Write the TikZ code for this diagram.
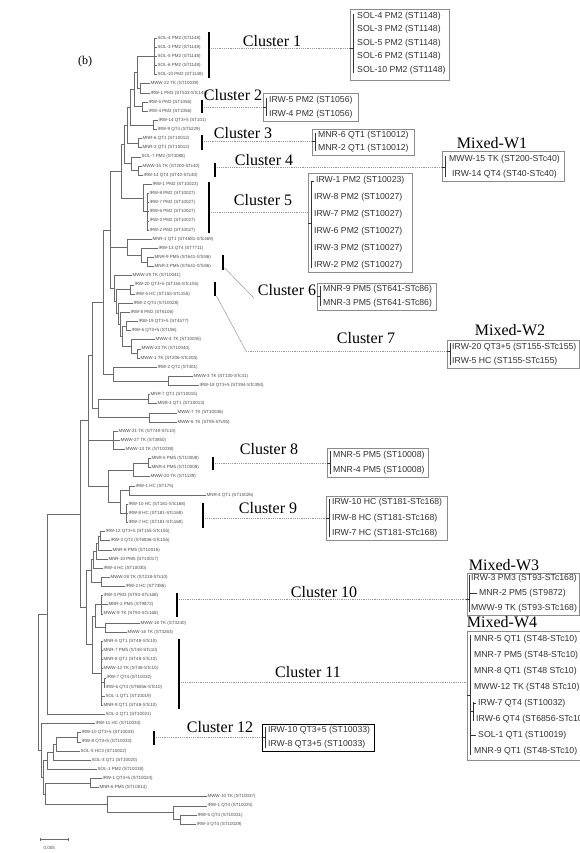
\documentclass[tikz,border=0pt]{standalone}
\usepackage{fontspec}
\setmainfont{Liberation Serif}
\newfontfamily\arialf{Liberation Sans}
\definecolor{treegray}{gray}{0.42}
\definecolor{leafgray}{gray}{0.3}
\definecolor{dotgray}{gray}{0.6}
\definecolor{boxgray}{gray}{0.55}
\definecolor{boxtext}{gray}{0.2}
\newcommand\lf[3]{\node[leaf] (l#1) at (#2,#1) {#3};}
\newcommand\vl[3]{\draw[br] (#1,#2) -- (#1,#3);}
\newcommand\hl[3]{\draw[br] (#1,#3) -- (#2,#3);}
\newcommand\tol[2]{\draw[br] (#1,#2) -- (l#2.west);}
\newcommand\brow[3]{\node[btxt] at (#1,#2) {#3};}
\newcommand\bkt[4]{\draw[bline] (#1,#2) -- (#1,#3); \draw[bline] (#1,#4) -- ++(-3.5,0);}
\begin{document}
\begin{tikzpicture}[x=1pt,y=-1pt,
  br/.style={draw=treegray,line width=0.45pt},
  leaf/.style={anchor=west,inner sep=0.3pt,font=\arialf\fontsize{4.5}{5}\selectfont,text=leafgray},
  cbar/.style={line width=2.2pt,black},
  dots/.style={draw=dotgray,line width=0.5pt,dash pattern=on 1.2pt off 1pt},
  conn/.style={draw=dotgray,line width=0.5pt},
  cbox/.style={draw=boxgray,line width=0.6pt},
  bline/.style={draw=boxtext,line width=0.6pt},
  btxt/.style={anchor=west,inner sep=0pt,font=\arialf\fontsize{8.7}{9}\selectfont,text=boxtext},
  clab/.style={font=\fontsize{16}{18}\selectfont,inner sep=0pt}]
\useasboundingbox (0,0) rectangle (580,853);
\fill[white] (0,0) rectangle (580,853);
\node[font=\fontsize{12}{14}\selectfont] (b) at (85,62) {(b)};
% ---------------- tree ----------------
\begin{scope}[y=-9.14pt,yshift=-28.86pt]
\lf{1}{157}{SOL-4 PM2 (ST1148)}
\lf{2}{157}{SOL-3 PM2 (ST1148)}
\lf{3}{157}{SOL-5 PM2 (ST1148)}
\lf{4}{157}{SOL-6 PM2 (ST1148)}
\lf{5}{157}{SOL-10 PM2 (ST1148)}
\lf{6}{150}{MWW-22 TK (ST10039)}
\lf{7}{150}{IRW-1 PM3 (ST533-STc145)}
\lf{8}{148}{IRW-5 PM2 (ST1056)}
\lf{9}{148}{IRW-4 PM2 (ST1056)}
\lf{10}{158}{IRW-14 QT3+5 (ST101)}
\lf{11}{157}{IRW-9 QT4 (ST5229)}
\lf{12}{142}{MNR-6 QT1 (ST10012)}
\lf{13}{142}{MNR-2 QT1 (ST10012)}
\lf{14}{141}{SOL-7 PM2 (ST4088)}
\lf{15}{142}{MWW-15 TK (ST200-STc40)}
\lf{16}{143}{IRW-14 QT4 (ST40-STc40)}
\lf{17}{152}{IRW-1 PM2 (ST10023)}
\lf{18}{149}{IRW-8 PM2 (ST10027)}
\lf{19}{149}{IRW-7 PM2 (ST10027)}
\lf{20}{149}{IRW-6 PM2 (ST10027)}
\lf{21}{149}{IRW-3 PM2 (ST10027)}
\lf{22}{149}{IRW-2 PM2 (ST10027)}
\lf{23}{152}{MNR-1 QT1 (ST4681-STc469)}
\lf{24}{158}{IRW-13 QT4 (ST7711)}
\lf{25}{154}{MNR-9 PM5 (ST641-STc86)}
\lf{26}{154}{MNR-3 PM5 (ST641-STc86)}
\lf{27}{132}{MWW-29 TK (ST10041)}
\lf{28}{134}{IRW-20 QT3+5 (ST155-STc155)}
\lf{29}{135}{IRW-5 HC (ST155-STc155)}
\lf{30}{133}{IRW-2 QT4 (ST10028)}
\lf{31}{130}{IRW-8 PM2 (ST6106)}
\lf{32}{138}{IRW-19 QT3+5 (ST4577)}
\lf{33}{131}{IRW-6 QT3+5 (ST196)}
\lf{34}{155}{MWW-4 TK (ST10035)}
\lf{35}{141}{MWW-23 TK (ST10040)}
\lf{36}{140}{MWW-1 TK (ST206-STc205)}
\lf{37}{157}{IRW-2 QT2 (ST401)}
\lf{38}{193}{MWW-3 TK (ST130-STc31)}
\lf{39}{199}{IRW-18 QT3+5 (ST394-STc394)}
\lf{40}{150}{MNR-7 QT1 (ST10015)}
\lf{41}{157}{MNR-3 QT1 (ST10013)}
\lf{42}{177}{MWW-7 TK (ST10036)}
\lf{43}{177}{MWW-6 TK (ST95-STc95)}
\lf{44}{118}{MWW-21 TK (ST749-STc10)}
\lf{45}{120}{MWW-27 TK (ST3850)}
\lf{46}{125}{MWW-13 TK (ST10038)}
\lf{47}{151}{MNR-5 PM5 (ST10008)}
\lf{48}{151}{MNR-4 PM5 (ST10008)}
\lf{49}{150}{MWW-20 TK (ST1139)}
\lf{50}{135}{IRW-1 HC (ST175)}
\lf{51}{206}{MNR-4 QT1 (ST10026)}
\lf{52}{128}{IRW-10 HC (ST181-STc168)}
\lf{53}{128}{IRW-8 HC (ST181-STc168)}
\lf{54}{128}{IRW-7 HC (ST181-STc168)}
\lf{55}{105}{IRW-12 QT3+5 (ST155-STc155)}
\lf{56}{110}{IRW-3 QT2 (ST6836-STc155)}
\lf{57}{112}{MNR-8 PM5 (ST10016)}
\lf{58}{108}{MNR-10 PM5 (ST10017)}
\lf{59}{103}{IRW-4 HC (ST10030)}
\lf{60}{110}{MWW-28 TK (ST218-STc10)}
\lf{61}{125}{IRW-2 HC (ST7386)}
\lf{62}{103}{IRW-3 PM3 (ST93-STc168)}
\lf{63}{108}{MNR-2 PM5 (ST9872)}
\lf{64}{103}{MWW-9 TK (ST93-STc168)}
\lf{65}{140}{MWW-18 TK (ST3240)}
\lf{66}{127}{MWW-16 TK (ST3263)}
\lf{67}{103}{MNR-5 QT1 (ST48-STc10)}
\lf{68}{103}{MNR-7 PM5 (ST48-STc10)}
\lf{69}{103}{MNR-8 QT1 (ST48-STc10)}
\lf{70}{103}{MWW-12 TK (ST48-STc10)}
\lf{71}{106}{IRW-7 QT4 (ST10032)}
\lf{72}{105}{IRW-6 QT4 (ST6856-STc10)}
\lf{73}{105}{SOL-1 QT1 (ST10019)}
\lf{74}{103}{MNR-9 QT1 (ST48-STc10)}
\lf{75}{105}{SOL-2 QT1 (ST10021)}
\lf{76}{95}{IRW-11 HC (ST10034)}
\lf{77}{81}{IRW-10 QT3+5 (ST10033)}
\lf{78}{81}{IRW-8 QT3+5 (ST10033)}
\lf{79}{80}{SOL-5 HC3 (ST10022)}
\lf{80}{91}{SOL-3 QT1 (ST10020)}
\lf{81}{97}{SOL-1 PM2 (ST10018)}
\lf{82}{102}{IRW-1 QT3+5 (ST10024)}
\lf{83}{99}{MNR-6 PM5 (ST10014)}
\lf{84}{207}{MWW-10 TK (ST10037)}
\lf{85}{207}{IRW-1 QT4 (ST10025)}
\lf{86}{197}{IRW-5 QT4 (ST10031)}
\lf{87}{196}{IRW-3 QT4 (ST10029)}
% a
\vl{154}{1}{5} \foreach \i in {1,...,5}{\tol{154}{\i}}
\vl{140}{6}{7} \tol{140}{6} \tol{140}{7}
\vl{137}{3}{6.5} \hl{137}{154}{3} \hl{137}{140}{6.5}
\vl{142}{8}{9} \tol{142}{8} \tol{142}{9}
\vl{134}{4.75}{8.5} \hl{134}{137}{4.75} \hl{134}{142}{8.5}
\vl{153}{10}{11} \tol{153}{10} \tol{153}{11}
\vl{130}{6.625}{10.5} \hl{130}{134}{6.625} \hl{130}{153}{10.5}
\vl{138}{12}{13} \tol{138}{12} \tol{138}{13}
\vl{127}{8.5625}{12.5} \hl{127}{130}{8.5625} \hl{127}{138}{12.5}
\vl{138}{15}{16} \tol{138}{15} \tol{138}{16}
\vl{131}{14}{15.5} \tol{131}{14} \hl{131}{138}{15.5}
\vl{124}{10.53}{14.75} \hl{124}{127}{10.53} \hl{124}{131}{14.75}
\vl{147}{18}{22} \foreach \i in {18,...,22}{\tol{147}{\i}}
\vl{143}{17}{20} \tol{143}{17} \hl{143}{147}{20}
\vl{121}{12.64}{18.5} \hl{121}{124}{12.64} \hl{121}{143}{18.5}
\vl{147}{25}{26} \tol{147}{25} \tol{147}{26}
\vl{141}{24}{25.5} \tol{141}{24} \hl{141}{147}{25.5}
\vl{127}{23}{24.75} \tol{127}{23} \hl{127}{141}{24.75}
% b
\vl{130}{28}{29} \tol{130}{28} \tol{130}{29}
\vl{126}{32}{33} \tol{126}{32} \tol{126}{33}
\vl{137}{35}{36} \tol{137}{35} \tol{137}{36}
\vl{131}{34}{35.5} \tol{131}{34} \hl{131}{137}{35.5}
\vl{122}{32.5}{34.75} \hl{122}{126}{32.5} \hl{122}{131}{34.75}
\vl{120}{31}{33.625} \tol{120}{31} \hl{120}{122}{33.625}
\vl{118}{30}{32.31} \tol{118}{30} \hl{118}{120}{32.31}
\vl{116}{28.5}{31.16} \hl{116}{130}{28.5} \hl{116}{118}{31.16}
\vl{114}{27}{29.83} \tol{114}{27} \hl{114}{116}{29.83}
\vl{110}{15.57}{28.41} \hl{110}{121}{15.57} \hl{110}{127}{23.875} \hl{110}{114}{28.41}
% c
\vl{168}{38}{39} \tol{168}{38} \tol{168}{39}
\vl{113}{37}{38.5} \tol{113}{37} \hl{113}{168}{38.5}
\vl{103}{21.99}{37.75} \hl{103}{110}{21.99} \hl{103}{113}{37.75}
\vl{148}{40}{41} \tol{148}{40} \tol{148}{41}
\vl{149}{42}{43} \tol{149}{42} \tol{149}{43}
\vl{98}{40.5}{42.5} \hl{98}{148}{40.5} \hl{98}{149}{42.5}
\vl{92}{29.87}{41.5} \hl{92}{103}{29.87} \hl{92}{98}{41.5}
% d, e
\vl{113}{44}{46} \tol{113}{44} \tol{113}{45} \tol{113}{46}
\vl{148}{47}{48} \tol{148}{47} \tol{148}{48}
\vl{133}{47.5}{49} \hl{133}{148}{47.5} \tol{133}{49}
\vl{129}{50}{51} \tol{129}{50} \tol{129}{51}
\vl{126}{52}{54} \tol{126}{52} \tol{126}{53} \tol{126}{54}
\vl{120}{50.5}{53} \hl{120}{129}{50.5} \hl{120}{126}{53}
\vl{108}{48.25}{51.75} \hl{108}{133}{48.25} \hl{108}{120}{51.75}
\vl{88}{35.69}{50} \hl{88}{92}{35.69} \hl{88}{113}{45} \hl{88}{108}{50}
% j
\vl{100}{55}{56} \tol{100}{55} \tol{100}{56}
\vl{98}{55.5}{57} \hl{98}{100}{55.5} \tol{98}{57}
\vl{96}{56.25}{58} \hl{96}{98}{56.25} \tol{96}{58}
\vl{93}{57.125}{59} \hl{93}{96}{57.125} \tol{93}{59}
\vl{101}{60}{61} \tol{101}{60} \tol{101}{61}
\vl{91}{58.06}{60.5} \hl{91}{93}{58.06} \hl{91}{101}{60.5}
\vl{101}{62}{64} \tol{101}{62} \tol{101}{63} \tol{101}{64}
\vl{105}{65}{66} \tol{105}{65} \tol{105}{66}
\vl{95}{63}{65.5} \hl{95}{101}{63} \hl{95}{105}{65.5}
\vl{104}{71}{72} \tol{104}{71} \tol{104}{72}
\vl{101}{67}{74} \foreach \i in {67,68,69,70,73,74}{\tol{101}{\i}} \hl{101}{104}{71.5}
\vl{92}{64.25}{70.5} \hl{92}{95}{64.25} \hl{92}{101}{70.5}
\vl{86}{59.28}{67.375} \hl{86}{91}{59.28} \hl{86}{92}{67.375}
\vl{80}{42.85}{63.33} \hl{80}{88}{42.85} \hl{80}{86}{63.33}
\vl{47}{53.09}{75} \hl{47}{80}{53.09} \tol{47}{75}
% m
\vl{77}{77}{78} \tol{77}{77} \tol{77}{78}
\vl{56}{77.5}{79} \hl{56}{77}{77.5} \tol{56}{79}
\vl{53}{78.25}{80} \hl{53}{56}{78.25} \tol{53}{80}
\vl{47}{79.125}{81} \hl{47}{53}{79.125} \tol{47}{81}
\vl{90}{82}{83} \tol{90}{82} \tol{90}{83}
\vl{180}{86}{87} \tol{180}{86} \tol{180}{87}
\vl{173}{85}{86.5} \tol{173}{85} \hl{173}{180}{86.5}
\vl{107}{84}{85.75} \tol{107}{84} \hl{107}{173}{85.75}
\vl{45}{82.5}{84.875} \hl{45}{90}{82.5} \hl{45}{107}{84.875}
\vl{43}{80.06}{83.69} \hl{43}{47}{80.06} \hl{43}{45}{83.69}
\vl{41}{76}{81.875} \tol{41}{76} \hl{41}{43}{81.875}
\vl{38}{64.05}{78.94} \hl{38}{47}{64.05} \hl{38}{41}{78.94}
\end{scope}
% scale bar
\coordinate (s1) at (40,839); \coordinate (s2) at (68,839);
\draw[br] (s1) -- (s2);
\draw[br] (s1) ++(0,-1.5) -- ++(0,3);
\draw[br] (s2) ++(0,-1.5) -- ++(0,3);
\node[leaf] (sl) at (43,848) {0.005};
% ---------------- cluster bars ----------------
\foreach \x/\a/\b in {209/32/78, 202/100/113, 202/135/150, 215/163/177, 209/182/233, 223/255/270, 215/282/296, 213/457/470, 203/503/528, 177/593/617, 179/639/709, 154/731/745}
  \draw[cbar] (\x,\a) -- (\x,\b);
% dotted connectors
\foreach \xa/\xb/\y in {210.5/350/48, 203.5/263/107, 203.5/312/141, 216.5/442/167, 210.5/308/212, 214.5/327/463, 204.5/326/518, 178.5/467/599, 180.5/467/682, 155.5/262/737}
  \draw[dots] (\xa,\y) -- (\xb,\y);
\coordinate (c6a) at (224.5,268); \coordinate (c6b) at (254,298);
\draw[conn] (c6a) -- (c6b);
\coordinate (c7a) at (216.5,296); \coordinate (c7b) at (246,351); \coordinate (c7c) at (447,351);
\draw[conn] (c7a) -- (c7b); \draw[dots] (c7b) -- (c7c);
% ---------------- boxes ----------------
\draw[cbox] (350,9) rectangle (449,80);
\bkt{353.5}{14}{73}{48}
\brow{357}{16}{SOL-4 PM2 (ST1148)}
\brow{357}{29.5}{SOL-3 PM2 (ST1148)}
\brow{357}{43}{SOL-5 PM2 (ST1148)}
\brow{357}{56.5}{SOL-6 PM2 (ST1148)}
\brow{357}{70}{SOL-10 PM2 (ST1148)}
\draw[cbox] (263,93) rectangle (358,121);
\bkt{266.5}{98}{116}{107}
\brow{269}{100}{IRW-5 PM2 (ST1056)}
\brow{269}{114}{IRW-4 PM2 (ST1056)}
\draw[cbox] (312,129) rectangle (414,155);
\bkt{315.5}{133}{151}{141}
\brow{318}{135.5}{MNR-6 QT1 (ST10012)}
\brow{318}{148.5}{MNR-2 QT1 (ST10012)}
\draw[cbox] (442,151) rectangle (564,181);
\bkt{445.5}{156}{177}{167}
\brow{449}{159}{MWW-15 TK (ST200-STc40)}
\brow{452}{174}{IRW-14 QT4 (ST40-STc40)}
\draw[cbox] (308,173) rectangle (412,272);
\bkt{311.5}{181}{268}{223}
\draw[bline] (311.5,181) -- (314,181);
\brow{316}{180}{IRW-1 PM2 (ST10023)}
\brow{314}{197}{IRW-8 PM2 (ST10027)}
\brow{314}{214}{IRW-7 PM2 (ST10027)}
\brow{314}{231}{IRW-6 PM2 (ST10027)}
\brow{314}{248}{IRW-3 PM2 (ST10027)}
\brow{314}{265}{IRW-2 PM2 (ST10027)}
\draw[cbox] (317,283) rectangle (436,310);
\bkt{320.5}{286}{306}{296}
\brow{323}{289}{MNR-9 PM5 (ST641-STc86)}
\brow{323}{303}{MNR-3 PM5 (ST641-STc86)}
\draw[cbox] (447,340) rectangle (579,368);
\bkt{450}{343}{365}{351}
\brow{452}{347}{IRW-20 QT3+5 (ST155-STc155)}
\brow{452}{361}{IRW-5 HC (ST155-STc155)}
\draw[cbox] (327,448) rectangle (428,477);
\bkt{330.5}{451}{474}{463}
\brow{333}{455}{MNR-5 PM5 (ST10008)}
\brow{333}{470.5}{MNR-4 PM5 (ST10008)}
\draw[cbox] (326,496) rectangle (447,540);
\bkt{329.5}{499}{537}{518}
\brow{332}{502.5}{IRW-10 HC (ST181-STc168)}
\brow{332}{518}{IRW-8 HC (ST181-STc168)}
\brow{332}{533.5}{IRW-7 HC (ST181-STc168)}
\draw[cbox] (467,573) rectangle (579.5,615);
\bkt{469.5}{575}{612}{599}
\draw[bline] (469.5,593) -- (477,593);
\brow{471}{578}{IRW-3 PM3 (ST93-STc168)}
\brow{479}{593}{MNR-2 PM5 (ST9872)}
\brow{471}{608}{MWW-9 TK (ST93-STc168)}
\draw[cbox] (467,631) rectangle (600,760);
\bkt{470.5}{635}{755}{695}
\draw[bline] (473.5,702) -- (473.5,721); \draw[bline] (470.5,711) -- (473.5,711);
\draw[bline] (473.5,703) -- (476,703);
\draw[bline] (470.5,735) -- (476,735);
\brow{474}{639}{MNR-5 QT1 (ST48-STc10)}
\brow{474}{655}{MNR-7 PM5 (ST48-STc10)}
\brow{474}{671}{MNR-8 QT1 (ST48 STc10)}
\brow{474}{687}{MWW-12 TK (ST48 STc10)}
\brow{478}{703}{IRW-7 QT4 (ST10032)}
\brow{476}{719}{IRW-6 QT4 (ST6856-STc10)}
\brow{478}{735}{SOL-1 QT1 (ST10019)}
\brow{474}{751}{MNR-9 QT1 (ST48-STc10)}
\draw[black,line width=0.8pt] (262,724) rectangle (374,751);
\bkt{265.5}{727}{748}{737}
\brow{268}{730.5}{IRW-10 QT3+5 (ST10033)}
\brow{268}{744.5}{IRW-8 QT3+5 (ST10033)}
% ---------------- labels ----------------
\node[clab] (L1) at (272,41) {Cluster 1};
\node[clab] (L2) at (233,95) {Cluster 2};
\node[clab] (L3) at (243,133) {Cluster 3};
\node[clab] (L4) at (264,160) {Cluster 4};
\node[clab] (L5) at (263,200) {Cluster 5};
\node[clab] (L6) at (287,290) {Cluster 6};
\node[clab] (L7) at (366,338) {Cluster 7};
\node[clab] (L8) at (269,449) {Cluster 8};
\node[clab] (L9) at (268,508) {Cluster 9};
\node[clab] (L10) at (324,592) {Cluster 10};
\node[clab] (L11) at (308,672) {Cluster 11};
\node[clab] (L12) at (220,727) {Cluster 12};
\node[clab] (M1) at (492,143) {Mixed-W1};
\node[clab] (M2) at (510,330) {Mixed-W2};
\node[clab] (M3) at (504,565) {Mixed-W3};
\node[clab] (M4) at (502,622) {Mixed-W4};
\end{tikzpicture}
\end{document}
